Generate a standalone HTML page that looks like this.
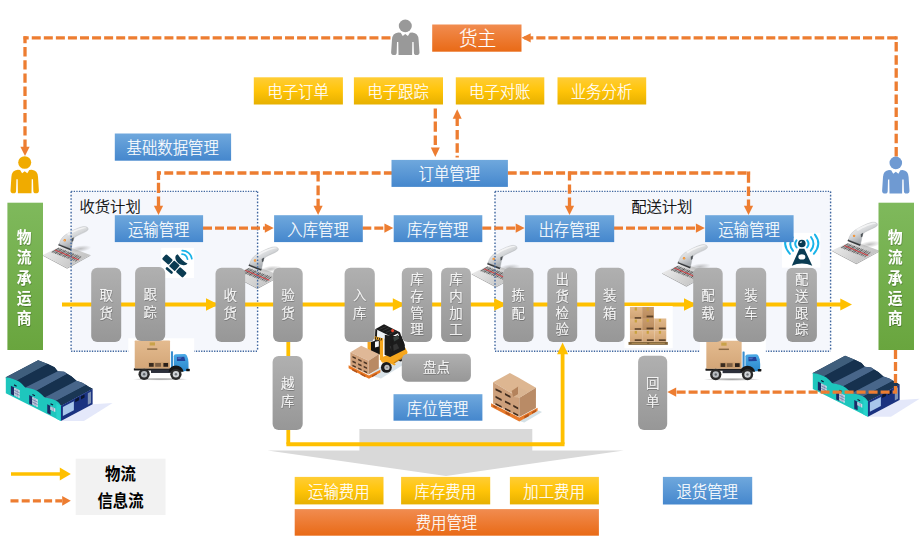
<!DOCTYPE html>
<html lang="zh-CN">
<head>
<meta charset="utf-8">
<title>物流信息流程图</title>
<style>
html,body{margin:0;padding:0;background:#fff;}
body{width:921px;height:542px;overflow:hidden;}
svg{display:block;}
text{font-family:"Liberation Sans", "Noto Sans CJK SC", sans-serif;}
.bx{fill:#fff;font-size:15.4px;font-weight:300;stroke:#fff;stroke-width:0.18px;text-anchor:middle;}
.pl{fill:#fff;font-size:13.4px;font-weight:300;stroke:#fff;stroke-width:0.15px;text-anchor:middle;}
.gr{fill:#fff;font-size:14.8px;font-weight:700;text-anchor:middle;}
.lb{fill:#000;font-size:15.3px;font-weight:300;stroke:#000;stroke-width:0.25px;text-anchor:middle;}
.lg{fill:#000;font-size:15.4px;font-weight:700;text-anchor:middle;}
.d{fill:none;stroke:#ED7D31;stroke-width:3.3;}
.y{fill:none;stroke:#FFC000;stroke-width:4.1;}
</style>
</head>
<body>
<svg width="921" height="542" viewBox="0 0 921 542">
<defs>
<linearGradient id="gY" x1="0" y1="0" x2="0" y2="1"><stop offset="0" stop-color="#FFCD36"/><stop offset="0.5" stop-color="#FFC408"/><stop offset="1" stop-color="#E6B000"/></linearGradient>
<linearGradient id="gB" x1="0" y1="0" x2="0" y2="1"><stop offset="0" stop-color="#6FA8DD"/><stop offset="1" stop-color="#4587CD"/></linearGradient>
<linearGradient id="gO" x1="0" y1="0" x2="0" y2="1"><stop offset="0" stop-color="#F18C50"/><stop offset="1" stop-color="#E96A16"/></linearGradient>
<linearGradient id="gG" x1="0" y1="0" x2="0" y2="1"><stop offset="0" stop-color="#7FB95C"/><stop offset="1" stop-color="#69A53E"/></linearGradient>
<linearGradient id="gP" x1="0" y1="0" x2="0" y2="1"><stop offset="0" stop-color="#B0B0B0"/><stop offset="1" stop-color="#979797"/></linearGradient>
<filter id="ts" x="-20%" y="-20%" width="140%" height="140%"><feDropShadow dx="0.4" dy="0.8" stdDeviation="0.5" flood-color="#000" flood-opacity="0.35"/></filter>
</defs>
<rect width="921" height="542" fill="#fff"/>

<rect x="71.1" y="191.4" width="186.5" height="159.9" fill="#F5F7FC"/>
<rect x="495.0" y="191.4" width="335.6" height="159.9" fill="#F5F7FC"/>
<defs><g id="scanner" transform="scale(0.11074)">
<linearGradient id="scPad" gradientUnits="userSpaceOnUse" x1="200" y1="300" x2="380" y2="480"><stop offset="0" stop-color="#E6E6E6"/><stop offset="1" stop-color="#C6C6C6"/></linearGradient>
<linearGradient id="scBody" gradientUnits="userSpaceOnUse" x1="330" y1="110" x2="400" y2="250"><stop offset="0" stop-color="#F4F4F5"/><stop offset="0.55" stop-color="#D6D8DA"/><stop offset="1" stop-color="#A9ADB1"/></linearGradient>
<radialGradient id="scSh" cx="0.5" cy="0.5" r="0.5"><stop offset="0" stop-color="#8E8E8E" stop-opacity="0.55"/><stop offset="1" stop-color="#8E8E8E" stop-opacity="0"/></radialGradient>
<polygon points="116,368 335,485 545,369 545,362 335,476 116,361" fill="#A2A2A2"/>
<polygon points="116,361 240,300 300,280 400,308 545,362 335,476" fill="url(#scPad)"/>
<polygon points="190,334 256,296 470,378 418,422" fill="#B4B4B4"/>
<g stroke="#505050" fill="none"><path d="M197,337 L262,298" stroke-width="7"/><path d="M213,343 L277,304" stroke-width="4"/><path d="M226,348 L290,309" stroke-width="8"/><path d="M245,355 L307,316" stroke-width="5"/><path d="M261,361 L322,321" stroke-width="9"/><path d="M274,367 L335,326" stroke-width="4"/><path d="M293,374 L352,333" stroke-width="7"/><path d="M309,380 L367,339" stroke-width="9"/><path d="M327,387 L384,345" stroke-width="5"/><path d="M340,392 L397,350" stroke-width="8"/><path d="M359,399 L414,357" stroke-width="4"/><path d="M375,405 L429,362" stroke-width="8"/><path d="M391,411 L444,368" stroke-width="6"/><path d="M409,418 L461,375" stroke-width="7"/></g>
<path d="M226,316 L442,406" stroke="#E6333A" stroke-width="9" fill="none" opacity="0.85"/>
<ellipse cx="455" cy="305" rx="100" ry="30" fill="url(#scSh)" transform="rotate(-8 455 305)"/>
<g transform="translate(2,8)"><polygon points="252,266 262,248 374,292 366,312" fill="#34373A"/>
<path d="M262,256 C268,222 286,192 322,168 C360,144 420,112 464,100 C500,91 528,102 522,124 C516,142 462,158 412,186 C390,200 384,222 380,250 L371,296 Z" fill="url(#scBody)" stroke="#A3A7AB" stroke-width="3"/>
<path d="M330,160 C370,138 430,112 470,104 C490,100 505,103 510,110 C470,112 400,142 345,176 Z" fill="#FFFFFF" opacity="0.6"/>
<path d="M372,206 L394,192 L388,226 L374,236 Z" fill="#4E5357"/>
<circle cx="312" cy="220" r="11" fill="#F28C28"/>
<circle cx="312" cy="220" r="4" fill="#FFD9A8"/>
</g>
</g><g id="truck" transform="scale(0.11074)">
<linearGradient id="tkBox" x1="0" y1="0" x2="0" y2="1"><stop offset="0" stop-color="#E4BB8F"/><stop offset="1" stop-color="#D3A678"/></linearGradient>
<linearGradient id="tkCab" x1="0" y1="0" x2="0" y2="1"><stop offset="0" stop-color="#4BA9E6"/><stop offset="1" stop-color="#2B88CC"/></linearGradient>
<radialGradient id="tkSh" cx="0.5" cy="0.5" r="0.5"><stop offset="0" stop-color="#777" stop-opacity="0.7"/><stop offset="0.7" stop-color="#999" stop-opacity="0.45"/><stop offset="1" stop-color="#999" stop-opacity="0"/></radialGradient>
<rect x="75" y="75" width="595" height="410" fill="#FFFFFF"/>
<ellipse cx="365" cy="444" rx="255" ry="13" fill="url(#tkSh)"/>
<rect x="125" y="346" width="480" height="20" rx="4" fill="#1C1C1C"/>
<rect x="280" y="358" width="180" height="30" fill="#2C2F3A"/>
<rect x="133" y="95" width="319" height="252" rx="6" fill="url(#tkBox)"/>
<rect x="268" y="112" width="48" height="28" fill="#C9A24A"/>
<rect x="245" y="166" width="92" height="13" fill="#8A6A45"/>
<rect x="255" y="292" width="188" height="46" fill="#C79C6E"/>
<rect x="262" y="298" width="42" height="34" fill="#3A2C20"/>
<rect x="318" y="298" width="52" height="34" fill="#7A5D42"/>
<rect x="392" y="298" width="42" height="34" fill="#2A2019"/>
<rect x="460" y="192" width="19" height="165" rx="4" fill="#3B8FD0"/>
<path d="M486,356 L486,236 Q486,220 504,219 L584,217 Q598,218 604,232 L615,262 Q621,300 619,340 L616,368 L560,374 L500,368 Z" fill="url(#tkCab)"/>
<path d="M514,243 L580,241 L590,279 L514,280 Z" fill="#24439A"/>
<path d="M520,247 L560,246 L545,262 L520,263 Z" fill="#5C7FD0" opacity="0.7"/>
<path d="M438,376 Q448,322 505,320 Q562,322 574,376 Z" fill="#161616"/>
<rect x="598" y="350" width="32" height="22" rx="5" fill="#111"/>
<circle cx="218" cy="400" r="51" fill="#2A2A2A"/>
<circle cx="218" cy="400" r="29" fill="#B9BDC1"/>
<circle cx="218" cy="400" r="11" fill="#5F6469"/>
<circle cx="505" cy="400" r="51" fill="#2A2A2A"/>
<circle cx="505" cy="400" r="29" fill="#D0D3D6"/>
<circle cx="505" cy="400" r="11" fill="#6E7378"/>
</g><g id="warehouse" transform="scale(0.12915)">
<linearGradient id="whL" gradientUnits="userSpaceOnUse" x1="0" y1="0" x2="60" y2="110"><stop offset="0" stop-color="#57738F"/><stop offset="1" stop-color="#2C4A69"/></linearGradient>
<polygon points="472,512 717,382 872,372 650,512" fill="#E4E8FA"/>
<path d="M45,172 L295,40 L370,70 L422,95 L447,125 L497,130 L552,165 L592,200 L637,215 L687,245 L717,262 L472,392 L45,180 Z" fill="#17324F"/>
<polygon points="45,172 295,40 370,70 132,198" fill="#3F5E7C"/>
<polygon points="132,198 370,70 422,95 447,125 195,252 165,222" fill="#16314E"/>
<polygon points="195,252 447,125 497,130 520,148 282,276" fill="#48668A"/>
<polygon points="282,276 520,148 552,165 592,200 345,330 318,302" fill="#16314E"/>
<polygon points="345,330 592,200 637,215 668,232 432,356" fill="#48668A"/>
<polygon points="432,356 668,232 687,245 717,262 472,392" fill="#1A3654"/>
<path d="M45,172 Q118,184 150,208 Q176,228 195,252 Q268,262 300,286 Q326,306 345,330 Q418,340 450,364 Q464,378 472,392 L472,512 L45,296 Z" fill="#1EC6BD"/>
<path d="M436,374 L472,392 L472,512 L436,494 Z" fill="#27D3CB"/>
<polygon points="472,392 717,262 717,382 472,512" fill="#1A3280"/>
<polygon points="487,402 572,358 572,428 487,472" fill="#A8C6EA"/>
<polygon points="582,342 612,326 612,350 582,366" fill="#0B1630"/>
<polygon points="627,320 655,305 655,329 627,344" fill="#0B1630"/>
<polygon points="680,296 705,283 705,372 680,385" fill="#7F92B4"/>
<polygon points="84,238 112,252 112,318 84,304" fill="#1B2A66"/>
<polygon points="110,252 152,273 152,334 110,313" fill="#E3EAF4"/>
<path d="M110,272 L152,293 M110,292 L152,313 M124,259 L124,320 M138,266 L138,327" stroke="#5A6A9A" stroke-width="5" fill="none"/>
<polygon points="226,310 252,323 252,390 226,377" fill="#1B2A66"/>
<polygon points="250,324 292,345 292,405 250,384" fill="#E3EAF4"/>
<path d="M250,344 L292,365 M250,364 L292,385 M264,331 L264,391 M278,338 L278,398" stroke="#5A6A9A" stroke-width="5" fill="none"/>
<polygon points="366,382 392,395 392,462 366,449" fill="#1B2A66"/>
<polygon points="390,396 428,415 428,442 390,423" fill="#E3EAF4"/>
<path d="M403,402 L403,430 M416,409 L416,436" stroke="#5A6A9A" stroke-width="5" fill="none"/>
<rect x="108" y="232" width="22" height="9" fill="#0F1A3A" transform="rotate(27 119 236)"/>
<rect x="250" y="306" width="22" height="9" fill="#0F1A3A" transform="rotate(27 261 310)"/>
<rect x="390" y="378" width="22" height="9" fill="#0F1A3A" transform="rotate(27 401 382)"/>
</g></defs>
<use href="#scanner" x="30" y="215"/>
<use href="#scanner" x="220.3" y="235.3"/>
<use href="#scanner" x="458.9" y="233.8"/>
<use href="#scanner" x="649.3" y="233.0"/>
<use href="#scanner" x="819.3" y="210.6"/>
<path d="M71.1 191.4 H257.6 M71.1 351.3 H257.6" fill="none" stroke="#3F669F" stroke-width="1.4" stroke-dasharray="1.3 1.3"/>
<path d="M71.1 191.4 V351.3 M257.6 191.4 V351.3" fill="none" stroke="#3F669F" stroke-width="1.4" stroke-dasharray="1.6 1.8"/>
<path d="M495.0 191.4 H830.6 M495.0 351.3 H830.6" fill="none" stroke="#3F669F" stroke-width="1.4" stroke-dasharray="1.3 1.3"/>
<path d="M495.0 191.4 V351.3 M830.6 191.4 V351.3" fill="none" stroke="#3F669F" stroke-width="1.4" stroke-dasharray="1.6 1.8"/>
<polygon fill="#D9D9D9" points="359.4,429 532.3,429 532.3,450.5 623.8,450.5 446,476 267.6,450.5 359.4,450.5"/>
<path class="y" d="M62.0 304.5 L845.0 304.5"/>
<path class="y" d="M286.4 444.3 L564.5 444.3"/>
<path d="M288.3 341 V444.3 M562.6 444.3 V353" stroke="#FFC000" stroke-width="3.8" fill="none"/>
<polygon fill="#FFC000" points="218.6,304.5 206.0,298.3 206.0,310.7"/>
<polygon fill="#FFC000" points="405.4,304.5 392.8,298.3 392.8,310.7"/>
<polygon fill="#FFC000" points="506.8,304.5 494.2,298.3 494.2,310.7"/>
<polygon fill="#FFC000" points="696.6,304.5 684.0,298.3 684.0,310.7"/>
<polygon fill="#FFC000" points="852.0,304.5 840.3,298.4 840.3,310.6"/>
<polygon fill="#FFC000" points="562.6,342.4 557.1,354.2 568.1,354.2"/>
<use href="#truck" x="120" y="330"/>
<use href="#truck" x="691.6" y="330.2"/>
<use href="#warehouse" x="0" y="355"/>
<use href="#warehouse" x="807" y="350.7"/>
<g transform="translate(615,295) scale(0.11074)">
<rect x="85" y="100" width="436" height="380" fill="#FFFFFF"/>
<linearGradient id="bsA" x1="0" y1="0" x2="0" y2="1"><stop offset="0" stop-color="#E2B98B"/><stop offset="1" stop-color="#CFA273"/></linearGradient>
<linearGradient id="bsB" x1="0" y1="0" x2="0" y2="1"><stop offset="0" stop-color="#C99C6E"/><stop offset="1" stop-color="#B88A5C"/></linearGradient>
<rect x="135" y="108" width="110" height="108" fill="url(#bsA)"/>
<rect x="245" y="108" width="106" height="108" fill="url(#bsB)"/>
<rect x="135" y="216" width="110" height="105" fill="url(#bsA)"/>
<rect x="245" y="212" width="110" height="109" fill="url(#bsB)"/>
<rect x="355" y="212" width="108" height="109" fill="url(#bsA)"/>
<rect x="135" y="321" width="110" height="102" fill="url(#bsA)"/>
<rect x="245" y="321" width="110" height="102" fill="url(#bsA)"/>
<rect x="355" y="321" width="108" height="102" fill="url(#bsA)"/>
<g fill="#5A4028">
<rect x="178" y="200" width="58" height="14"/><rect x="285" y="186" width="60" height="16"/>
<rect x="178" y="300" width="58" height="14"/><rect x="285" y="294" width="62" height="16"/><rect x="396" y="294" width="62" height="16"/>
<rect x="178" y="400" width="62" height="15"/><rect x="288" y="400" width="62" height="15"/><rect x="396" y="400" width="62" height="15"/>
</g>
<g fill="#C9A23F">
<rect x="178" y="112" width="20" height="28"/><rect x="286" y="112" width="20" height="28"/>
<rect x="178" y="222" width="20" height="26"/><rect x="286" y="216" width="20" height="26"/><rect x="396" y="216" width="20" height="26"/>
<rect x="178" y="324" width="20" height="26"/><rect x="286" y="324" width="20" height="26"/><rect x="396" y="324" width="20" height="26"/>
</g>
<rect x="122" y="424" width="355" height="26" fill="#7E6238"/>
<rect x="150" y="432" width="140" height="8" fill="#B89358"/><rect x="310" y="432" width="140" height="8" fill="#B89358"/>
</g>
<g transform="translate(150,240) scale(0.08299)">
<rect x="135" y="95" width="395" height="362" fill="#FFFFFF"/>
<g fill="#0A3B52">
<rect x="-55" y="-39" width="110" height="78" rx="14" transform="translate(210,235) rotate(42)"/>
<rect x="-55" y="-39" width="110" height="78" rx="14" transform="translate(377,390) rotate(42)"/>
<rect x="-46" y="-46" width="92" height="92" rx="8" transform="translate(294,311) rotate(42)"/>
<rect x="-52" y="-16" width="104" height="32" rx="15" transform="translate(232,368) rotate(42)"/>
<path d="M334,172 Q296,186 308,232 Q328,292 402,304 Q442,306 452,284 Q392,262 334,172 Z"/>
</g>
<g fill="none" stroke="#19B3E8" stroke-width="21" stroke-linecap="round">
<path d="M386,170 A72,72 0 0 1 452,230"/>
<path d="M388,127 A114,114 0 0 1 504,226"/>
</g>
</g>
<g transform="translate(345,318) scale(0.11993)">
<polygon points="200,478 300,505 480,395 450,330 330,380" fill="#CBD8E0" opacity="0.75"/>
<circle cx="465" cy="332" r="30" fill="#1B1B1B"/>
<circle cx="463" cy="332" r="14" fill="#BDBDBD"/>
<polygon points="308,328 500,243 522,284 516,306 402,378 308,372" fill="#F5A61D"/>
<polygon points="405,372 518,302 516,312 405,384" fill="#C77F12"/>
<polygon points="330,140 390,150 470,150 496,214 502,262 376,326 330,306" fill="#1C1C1C"/>
<polygon points="372,238 432,212 452,252 392,282" fill="#343434"/>
<polygon points="268,104 322,84 330,150 330,170 268,194" fill="#EEF2F4"/>
<polygon points="402,162 440,140 452,170 410,196" fill="#3A4340"/>
<polygon points="255,92 325,52 458,118 386,156" fill="#1A1A1A"/>
<path d="M285,96 L345,70 M312,108 L372,80 M340,122 L400,94 M368,136 L428,108" stroke="#3C3C3C" stroke-width="6" fill="none"/>
<polygon points="253,92 269,96 263,216 247,216" fill="#1A1A1A"/>
<polygon points="378,150 396,150 406,282 388,288" fill="#1A1A1A"/>
<polygon points="438,114 458,118 498,232 480,238" fill="#1A1A1A"/>
<circle cx="397" cy="105" r="13" fill="#E8442A"/>
<polygon points="214,200 292,180 292,305 214,292" fill="#141414"/>
<polygon points="250,198 282,192 282,238 250,246" fill="#F4F6F8"/>
<polygon points="188,200 216,200 216,300 188,290" fill="#F5A61D"/>
<polygon points="290,168 318,174 318,358 290,350" fill="#F5A61D"/>
<polygon points="244,150 318,170 318,196 244,176" fill="#F5A61D"/>
<path d="M258,156 L253,176 M274,160 L269,180 M290,165 L285,184 M305,169 L300,188" stroke="#111" stroke-width="7"/>
<polygon points="300,345 396,368 424,386 412,396 384,382 300,362" fill="#F5A61D"/>
<circle cx="345" cy="412" r="45" fill="#1B1B1B"/>
<circle cx="350" cy="412" r="22" fill="#BEBEBE"/>
<circle cx="350" cy="412" r="8" fill="#8A8A8A"/>
<polygon points="30,395 200,480 295,432 295,455 200,506 30,420" fill="#E87722"/>
<polygon points="60,424 100,444 100,458 60,438" fill="#B3541A"/><polygon points="130,459 170,479 170,493 130,473" fill="#B3541A"/>
<polygon points="225,480 265,459 265,472 225,493" fill="#B3541A"/>
<polygon points="45,285 135,232 282,300 197,357" fill="#DFB897"/>
<polygon points="45,285 197,357 197,472 45,400" fill="#CFA07A"/>
<polygon points="197,357 282,300 282,422 197,472" fill="#B98A64"/>
<g fill="#4A3424">
<polygon points="62,316 90,329 90,343 62,330"/><polygon points="110,339 138,352 138,366 110,353"/><polygon points="156,361 184,374 184,388 156,375"/>
<polygon points="62,354 90,367 90,381 62,368"/><polygon points="110,377 138,390 138,404 110,391"/><polygon points="156,399 184,412 184,426 156,413"/>
<polygon points="62,390 90,403 90,415 62,402"/><polygon points="110,413 138,426 138,438 110,425"/><polygon points="156,435 184,448 184,460 156,447"/>
</g>
</g>
<rect x="91.2" y="267.8" width="30.0" height="74.1" rx="6" fill="url(#gP)"/>
<text class="pl" filter="url(#ts)" transform="translate(106.2 304.0) scale(1 1.03)" dominant-baseline="central"><tspan x="0" y="-8.64" dominant-baseline="central">取</tspan><tspan x="0" y="8.64" dominant-baseline="central">货</tspan></text>
<rect x="135.1" y="267.0" width="30.1" height="74.1" rx="6" fill="url(#gP)"/>
<text class="pl" filter="url(#ts)" transform="translate(150.2 303.2) scale(1 1.03)" dominant-baseline="central"><tspan x="0" y="-8.64" dominant-baseline="central">跟</tspan><tspan x="0" y="8.64" dominant-baseline="central">踪</tspan></text>
<rect x="215.5" y="267.8" width="29.7" height="74.1" rx="6" fill="url(#gP)"/>
<text class="pl" filter="url(#ts)" transform="translate(230.3 304.0) scale(1 1.03)" dominant-baseline="central"><tspan x="0" y="-8.64" dominant-baseline="central">收</tspan><tspan x="0" y="8.64" dominant-baseline="central">货</tspan></text>
<rect x="273.1" y="267.8" width="29.6" height="74.1" rx="6" fill="url(#gP)"/>
<text class="pl" filter="url(#ts)" transform="translate(287.9 304.0) scale(1 1.03)" dominant-baseline="central"><tspan x="0" y="-8.64" dominant-baseline="central">验</tspan><tspan x="0" y="8.64" dominant-baseline="central">货</tspan></text>
<rect x="344.6" y="267.8" width="30.2" height="74.1" rx="6" fill="url(#gP)"/>
<text class="pl" filter="url(#ts)" transform="translate(359.7 304.0) scale(1 1.03)" dominant-baseline="central"><tspan x="0" y="-8.64" dominant-baseline="central">入</tspan><tspan x="0" y="8.64" dominant-baseline="central">库</tspan></text>
<rect x="401.8" y="267.8" width="30.4" height="74.1" rx="6" fill="url(#gP)"/>
<text class="pl" filter="url(#ts)" transform="translate(417.0 304.0) scale(1 1.03)" dominant-baseline="central"><tspan x="0" y="-24.68" dominant-baseline="central">库</tspan><tspan x="0" y="-8.23" dominant-baseline="central">存</tspan><tspan x="0" y="8.23" dominant-baseline="central">管</tspan><tspan x="0" y="24.68" dominant-baseline="central">理</tspan></text>
<rect x="441.1" y="267.8" width="29.8" height="74.1" rx="6" fill="url(#gP)"/>
<text class="pl" filter="url(#ts)" transform="translate(456.0 304.0) scale(1 1.03)" dominant-baseline="central"><tspan x="0" y="-24.68" dominant-baseline="central">库</tspan><tspan x="0" y="-8.23" dominant-baseline="central">内</tspan><tspan x="0" y="8.23" dominant-baseline="central">加</tspan><tspan x="0" y="24.68" dominant-baseline="central">工</tspan></text>
<rect x="503.1" y="267.8" width="30.4" height="74.1" rx="6" fill="url(#gP)"/>
<text class="pl" filter="url(#ts)" transform="translate(518.3 304.0) scale(1 1.03)" dominant-baseline="central"><tspan x="0" y="-8.64" dominant-baseline="central">拣</tspan><tspan x="0" y="8.64" dominant-baseline="central">配</tspan></text>
<rect x="547.3" y="267.8" width="29.9" height="74.1" rx="6" fill="url(#gP)"/>
<text class="pl" filter="url(#ts)" transform="translate(562.2 304.0) scale(1 1.03)" dominant-baseline="central"><tspan x="0" y="-24.68" dominant-baseline="central">出</tspan><tspan x="0" y="-8.23" dominant-baseline="central">货</tspan><tspan x="0" y="8.23" dominant-baseline="central">检</tspan><tspan x="0" y="24.68" dominant-baseline="central">验</tspan></text>
<rect x="595.1" y="267.8" width="29.4" height="74.1" rx="6" fill="url(#gP)"/>
<text class="pl" filter="url(#ts)" transform="translate(609.8 304.0) scale(1 1.03)" dominant-baseline="central"><tspan x="0" y="-8.64" dominant-baseline="central">装</tspan><tspan x="0" y="8.64" dominant-baseline="central">箱</tspan></text>
<rect x="693.2" y="267.8" width="29.5" height="74.1" rx="6" fill="url(#gP)"/>
<text class="pl" filter="url(#ts)" transform="translate(708.0 304.0) scale(1 1.03)" dominant-baseline="central"><tspan x="0" y="-8.64" dominant-baseline="central">配</tspan><tspan x="0" y="8.64" dominant-baseline="central">载</tspan></text>
<rect x="735.8" y="267.8" width="30.4" height="74.1" rx="6" fill="url(#gP)"/>
<text class="pl" filter="url(#ts)" transform="translate(751.0 304.0) scale(1 1.03)" dominant-baseline="central"><tspan x="0" y="-8.64" dominant-baseline="central">装</tspan><tspan x="0" y="8.64" dominant-baseline="central">车</tspan></text>
<rect x="786.5" y="267.8" width="30.4" height="74.1" rx="6" fill="url(#gP)"/>
<text class="pl" filter="url(#ts)" transform="translate(801.7 304.0) scale(1 1.03)" dominant-baseline="central"><tspan x="0" y="-24.68" dominant-baseline="central">配</tspan><tspan x="0" y="-8.23" dominant-baseline="central">送</tspan><tspan x="0" y="8.23" dominant-baseline="central">跟</tspan><tspan x="0" y="24.68" dominant-baseline="central">踪</tspan></text>
<rect x="272.6" y="356.1" width="30.1" height="73.8" rx="6" fill="url(#gP)"/>
<text class="pl" filter="url(#ts)" transform="translate(287.6 392.1) scale(1 1.03)" dominant-baseline="central"><tspan x="0" y="-8.64" dominant-baseline="central">越</tspan><tspan x="0" y="8.64" dominant-baseline="central">库</tspan></text>
<rect x="638.1" y="355.8" width="29.1" height="74.3" rx="6" fill="url(#gP)"/>
<text class="pl" filter="url(#ts)" transform="translate(652.6 392.1) scale(1 1.03)" dominant-baseline="central"><tspan x="0" y="-8.64" dominant-baseline="central">回</tspan><tspan x="0" y="8.64" dominant-baseline="central">单</tspan></text>
<rect x="401.8" y="353.8" width="69.1" height="27.9" rx="6" fill="url(#gP)"/>
<text class="pl" filter="url(#ts)" transform="translate(436.4 367.7) scale(1 1.03)" x="0" y="0" dominant-baseline="central">盘点</text>
<path class="d" d="M23.5 37.8 L391.1 37.8" stroke-dasharray="9 3.06" stroke-dashoffset="3.8"/>
<path class="d" d="M25.0 36.3 L25.0 148.0" stroke-dasharray="9.4 3.8" stroke-dashoffset="2.5"/>
<polygon fill="#ED7D31" points="25.0,156.0 20.4,146.8 29.6,146.8"/>
<path class="d" d="M896.2 42.1 L896.2 156.8" stroke-dasharray="9.5 3.6" stroke-dashoffset="0"/>
<path class="d" d="M524.2 37.8 L897.7 37.8" stroke-dasharray="9.1 3.0" stroke-dashoffset="0"/>
<rect x="894.7" y="36.3" width="3" height="3.2" fill="#ED7D31"/>
<polygon fill="#ED7D31" points="521.5,37.8 530.7,33.2 530.7,42.4"/>
<path class="d" d="M435.3 108.4 V118.6 M435.3 121.6 V131.8 M435.3 135.4 V145"/>
<polygon fill="#ED7D31" points="435.3,157.0 430.8,147.4 439.8,147.4"/>
<path class="d" d="M457.2 118 V126.1 M457.2 130 V139.6 M457.2 143.2 V152.8 M457.2 155.8 V157.6"/>
<polygon fill="#ED7D31" points="457.2,109.3 452.7,118.7 461.7,118.7"/>
<path class="d" d="M392.8 173.0 L156.9 173.0" stroke-dasharray="8.9 3.3" stroke-dashoffset="0"/>
<path class="d" d="M158.5 171.4 V179.9 M158.5 182.7 V193 M158.5 196.5 V206.2"/>
<polygon fill="#ED7D31" points="158.5,215.0 153.9,205.8 163.1,205.8"/>
<path class="d" d="M318.1 171.4 V181.6 M318.1 185.5 V195.2 M318.1 198.8 V206.2"/>
<polygon fill="#ED7D31" points="318.1,215.0 313.5,205.8 322.7,205.8"/>
<path class="d" d="M507.7 173.0 L750.1 173.0" stroke-dasharray="9 3.1" stroke-dashoffset="0"/>
<path class="d" d="M748.5 171.4 V182.7 M748.5 186.6 V196 M748.5 199.6 V206.2"/>
<polygon fill="#ED7D31" points="748.5,215.0 743.9,205.8 753.1,205.8"/>
<path class="d" d="M569.5 171.4 V180.5 M569.5 184.4 V193.8 M569.5 197.4 V206.2"/>
<polygon fill="#ED7D31" points="569.5,215.0 564.9,205.8 574.1,205.8"/>
<path class="d" d="M203.0 228.1 L265.4 228.1" stroke-dasharray="9 3" stroke-dashoffset="0"/>
<polygon fill="#ED7D31" points="273.7,228.1 264.8,223.5 264.8,232.7"/>
<path class="d" d="M362.3 228.1 L385.0 228.1" stroke-dasharray="9 3" stroke-dashoffset="0"/>
<polygon fill="#ED7D31" points="393.3,228.1 384.4,223.5 384.4,232.7"/>
<path class="d" d="M482.2 228.1 L516.3 228.1" stroke-dasharray="9 3" stroke-dashoffset="0"/>
<polygon fill="#ED7D31" points="524.6,228.1 515.7,223.5 515.7,232.7"/>
<path class="d" d="M614.0 228.1 L696.5 228.1" stroke-dasharray="9 3" stroke-dashoffset="0"/>
<polygon fill="#ED7D31" points="704.8,228.1 695.9,223.5 695.9,232.7"/>
<path class="d" d="M895.5 350.0 L895.5 392.1 L675.5 392.1" stroke-dasharray="9 3" stroke-dashoffset="0"/>
<polygon fill="#ED7D31" points="667.3,392.1 676.2,387.5 676.2,396.7"/>
<g transform="translate(770,225) scale(0.09234)">
<rect x="130" y="85" width="415" height="377" fill="#FFFFFF"/>
<g fill="none" stroke="#19B3E8" stroke-width="21" stroke-linecap="round">
<path d="M287,166 Q258,203 289,244"/><path d="M403,166 Q432,203 401,244"/>
<path d="M246,134 Q190,205 250,280"/><path d="M444,130 Q500,205 440,280"/>
<path d="M196,112 Q122,205 216,312"/><path d="M486,104 Q566,205 474,312"/>
</g>
<circle cx="345" cy="200" r="41" fill="#0A3B52"/>
<ellipse cx="335" cy="186" rx="14" ry="7" fill="#FFFFFF" opacity="0.85" transform="rotate(-25 335 186)"/>
<path d="M318,258 L372,258 L458,440 Q345,395 236,440 Z M345,318 A38,28 0 1 0 345,374 A38,28 0 1 0 345,318 Z" fill="#0A3B52" fill-rule="evenodd"/>
</g>
<rect x="432.2" y="24.5" width="89.3" height="27.2" fill="url(#gO)" />
<text class="bx" style="font-size:18.6px" transform="translate(477.5 38.9) scale(1 1.1)" x="0" y="0" dominant-baseline="central">货主</text>
<rect x="253.8" y="77.3" width="89.1" height="27.2" fill="url(#gY)" />
<text class="bx" transform="translate(298.1 91.7) scale(1 1.1)" x="0" y="0" dominant-baseline="central">电子订单</text>
<rect x="353.9" y="77.3" width="89.1" height="27.2" fill="url(#gY)" />
<text class="bx" transform="translate(398.1 91.7) scale(1 1.1)" x="0" y="0" dominant-baseline="central">电子跟踪</text>
<rect x="455.8" y="77.3" width="88.5" height="27.2" fill="url(#gY)" />
<text class="bx" transform="translate(499.7 91.7) scale(1 1.1)" x="0" y="0" dominant-baseline="central">电子对账</text>
<rect x="557.5" y="77.3" width="88.7" height="27.2" fill="url(#gY)" />
<text class="bx" transform="translate(601.5 91.7) scale(1 1.1)" x="0" y="0" dominant-baseline="central">业务分析</text>
<rect x="114.8" y="133.5" width="116.3" height="27.2" fill="url(#gB)" />
<text class="bx" transform="translate(172.7 147.9) scale(1 1.1)" x="0" y="0" dominant-baseline="central">基础数据管理</text>
<rect x="391.5" y="159.9" width="116.4" height="27.0" fill="url(#gB)" />
<text class="bx" transform="translate(449.3 174.2) scale(1 1.1)" x="0" y="0" dominant-baseline="central">订单管理</text>
<rect x="114.8" y="215.2" width="88.3" height="26.9" fill="url(#gB)" />
<text class="bx" transform="translate(158.7 229.5) scale(1 1.1)" x="0" y="0" dominant-baseline="central">运输管理</text>
<rect x="274.1" y="215.2" width="88.7" height="26.9" fill="url(#gB)" />
<text class="bx" transform="translate(318.1 229.5) scale(1 1.1)" x="0" y="0" dominant-baseline="central">入库管理</text>
<rect x="393.7" y="215.2" width="88.6" height="26.9" fill="url(#gB)" />
<text class="bx" transform="translate(437.7 229.5) scale(1 1.1)" x="0" y="0" dominant-baseline="central">库存管理</text>
<rect x="524.9" y="215.2" width="89.3" height="26.9" fill="url(#gB)" />
<text class="bx" transform="translate(569.2 229.5) scale(1 1.1)" x="0" y="0" dominant-baseline="central">出存管理</text>
<rect x="705.1" y="215.2" width="88.5" height="26.9" fill="url(#gB)" />
<text class="bx" transform="translate(749.0 229.5) scale(1 1.1)" x="0" y="0" dominant-baseline="central">运输管理</text>
<rect x="393.5" y="394.2" width="88.9" height="26.5" fill="url(#gB)" />
<text class="bx" transform="translate(437.6 408.3) scale(1 1.1)" x="0" y="0" dominant-baseline="central">库位管理</text>
<rect x="662.9" y="476.9" width="89.3" height="27.6" fill="url(#gB)" />
<text class="bx" transform="translate(707.2 491.5) scale(1 1.1)" x="0" y="0" dominant-baseline="central">退货管理</text>
<rect x="294.7" y="476.9" width="88.8" height="27.5" fill="url(#gY)" />
<text class="bx" transform="translate(338.8 491.4) scale(1 1.1)" x="0" y="0" dominant-baseline="central">运输费用</text>
<rect x="401.1" y="476.9" width="89.1" height="27.5" fill="url(#gY)" />
<text class="bx" transform="translate(445.3 491.4) scale(1 1.1)" x="0" y="0" dominant-baseline="central">库存费用</text>
<rect x="509.9" y="476.9" width="89.0" height="27.5" fill="url(#gY)" />
<text class="bx" transform="translate(554.1 491.4) scale(1 1.1)" x="0" y="0" dominant-baseline="central">加工费用</text>
<rect x="294.7" y="509.1" width="304.2" height="26.6" fill="url(#gO)" />
<text class="bx" transform="translate(446.4 523.2) scale(1 1.1)" x="0" y="0" dominant-baseline="central">费用管理</text>
<text class="lb" transform="translate(110.1 206.6) scale(1 1.0)" x="0" y="0" dominant-baseline="central">收货计划</text>
<text class="lb" transform="translate(661.8 206.6) scale(1 1.0)" x="0" y="0" dominant-baseline="central">配送计划</text>
<rect x="7.4" y="202.7" width="35.6" height="147.3" fill="url(#gG)" />
<text class="gr" filter="url(#ts)" transform="translate(24.2 277.3) scale(1 1.1)" dominant-baseline="central"><tspan x="0" y="-37.00" dominant-baseline="central">物</tspan><tspan x="0" y="-18.50" dominant-baseline="central">流</tspan><tspan x="0" y="0.00" dominant-baseline="central">承</tspan><tspan x="0" y="18.50" dominant-baseline="central">运</tspan><tspan x="0" y="37.00" dominant-baseline="central">商</tspan></text>
<rect x="878.5" y="202.7" width="35.5" height="147.3" fill="url(#gG)" />
<text class="gr" filter="url(#ts)" transform="translate(895.2 277.3) scale(1 1.1)" dominant-baseline="central"><tspan x="0" y="-37.00" dominant-baseline="central">物</tspan><tspan x="0" y="-18.50" dominant-baseline="central">流</tspan><tspan x="0" y="0.00" dominant-baseline="central">承</tspan><tspan x="0" y="18.50" dominant-baseline="central">运</tspan><tspan x="0" y="37.00" dominant-baseline="central">商</tspan></text>
<rect x="75.7" y="458.7" width="89.8" height="56.3" fill="#F2F2F2" />
<text class="lg" transform="translate(120.5 474.0) scale(1 1.1)" x="0" y="0" dominant-baseline="central">物流</text>
<text class="lg" transform="translate(120.5 501.0) scale(1 1.1)" x="0" y="0" dominant-baseline="central">信息流</text>
<path d="M11 474 H62" stroke="#FFC000" stroke-width="3.6" fill="none"/>
<polygon fill="#FFC000" points="70.8,474.0 59.8,467.5 59.8,480.5"/>
<path class="d" d="M10.5 500.8 L62.0 500.8" stroke-dasharray="8 3.2" stroke-dashoffset="0"/>
<polygon fill="#ED7D31" points="70.8,500.8 62.2,495.9 62.2,505.7"/>
<g fill="#F0AB00">
<ellipse cx="24.7" cy="162.5" rx="6.5" ry="6.3"/>
<path d="M17.7 169.7 Q11.7 170.3 11.4 176.7 L10.5 190.7 Q10.7 193.3 13.5 193.3 Q16.1 193.3 16.1 190.7 L16.4 179.2 L17.7 179.2 L17.9 193.3 L31.5 193.3 L31.7 179.2 L33.0 179.2 L33.3 190.7 Q33.3 193.3 35.9 193.3 Q38.7 193.3 38.9 190.7 L38.0 176.7 Q37.7 170.3 31.7 169.7 L29.3 169.9 L27.3 173.3 L24.7 171.3 L22.1 173.3 L20.1 169.9 Z"/>
</g>
<g fill="#999999">
<ellipse cx="405.3" cy="25.9" rx="6.5" ry="6.3"/>
<path d="M398.3 32.5 Q392.3 33.1 392.0 39.5 L391.1 52.4 Q391.3 55.0 394.1 55.0 Q396.7 55.0 396.7 52.4 L397.0 42.0 L398.3 42.0 L398.5 55.0 L412.1 55.0 L412.3 42.0 L413.6 42.0 L413.9 52.4 Q413.9 55.0 416.5 55.0 Q419.3 55.0 419.5 52.4 L418.6 39.5 Q418.3 33.1 412.3 32.5 L409.9 32.7 L407.9 36.1 L405.3 34.1 L402.7 36.1 L400.7 32.7 Z"/>
</g>
<g fill="#6F9AD2">
<ellipse cx="895.8" cy="162.9" rx="6.3" ry="6.3"/>
<path d="M889.0 170.1 Q883.3 170.7 883.0 177.1 L882.1 191.0 Q882.3 193.6 885.1 193.6 Q887.7 193.6 887.7 191.0 L888.0 179.6 L889.3 179.6 L889.5 193.6 L902.1 193.6 L902.3 179.6 L903.6 179.6 L903.9 191.0 Q903.9 193.6 906.5 193.6 Q909.3 193.6 909.5 191.0 L908.6 177.1 Q908.3 170.7 902.6 170.1 L900.4 170.3 L898.4 173.7 L895.8 171.7 L893.2 173.7 L891.2 170.3 Z"/>
</g>
<g transform="translate(480,365) scale(0.11074)">
<polygon points="355,505 530,410 560,425 400,520" fill="#C9D9E0" opacity="0.8"/>
<polygon points="100,345 355,475 520,385 520,415 355,510 100,378" fill="#E77A2B"/>
<polygon points="120,362 150,377 150,392 120,377" fill="#B3541A"/><polygon points="230,420 270,440 270,458 230,438" fill="#B3541A"/>
<polygon points="400,462 440,440 440,462 400,484" fill="#B3541A"/><polygon points="470,424 505,405 505,422 470,441" fill="#B3541A"/>
<polygon points="118,155 270,72 350,115 505,205 355,295" fill="#DDB691"/>
<polygon points="118,155 355,295 355,470 118,348" fill="#CDA07B"/>
<polygon points="355,295 505,205 505,388 355,470" fill="#B98B66"/>
<polygon points="270,245 350,200 435,245 355,295" fill="#E4C4A4"/>
<polygon points="270,245 270,175 350,130 350,200" fill="#C99B75" opacity="0"/>
<polygon points="285,235 345,195 345,265 300,290" fill="#B4835C"/>
<polygon points="345,195 430,240 430,250 355,295 300,290 345,265" fill="#D9B491"/>
<g fill="#3F2C1F">
<polygon points="140,210 195,238 195,256 140,228"/><polygon points="225,253 275,279 275,297 225,271"/>
<polygon points="140,278 195,306 195,324 140,296"/><polygon points="225,320 275,346 275,364 225,338"/><polygon points="300,360 345,383 345,401 300,378"/>
<polygon points="140,343 195,371 195,387 140,359"/><polygon points="225,385 275,411 275,427 225,401"/><polygon points="300,424 345,447 345,463 300,440"/>
</g>
</g>
</svg>
</body>
</html>
